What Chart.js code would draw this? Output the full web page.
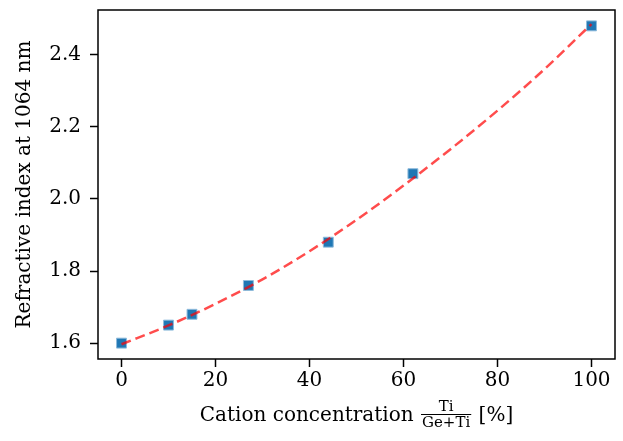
<!DOCTYPE html>
<html>
<head>
<meta charset="utf-8">
<script src="https://cdn.jsdelivr.net/npm/chart.js@4"></script>
<style>
  body { margin: 0; background: #fff; }
</style>
</head>
<body>
<canvas id="myChart" width="623" height="441"></canvas>
<script>
// measured points
var conc = [0, 10, 15, 27, 44, 62, 100];
var index = [1.60, 1.65, 1.68, 1.76, 1.88, 2.07, 2.48];

// dashed fit curve
var fitX = [0, 10, 20, 30, 40, 50, 60, 70, 80, 90, 100];
var fitY = [1.597, 1.649, 1.709, 1.777, 1.855, 1.942, 2.037, 2.138, 2.245, 2.360, 2.485];

var xTicks = [0, 20, 40, 60, 80, 100];
var yTicks = [1.6, 1.8, 2.0, 2.2, 2.4];

var yTitle = "Refractive index at 1064 nm";
var xTitle = "Cation concentration";
var fracTop = "Ti";
var fracBottom = "Ge+Ti";
var xUnit = "[%]";

var FONT = '"DejaVu Serif", serif';

var frame = {
	id: 'frame',
	afterDraw: function(chart) {
		var ctx = chart.ctx;
		var a = chart.chartArea;
		ctx.save();
		ctx.strokeStyle = '#000';
		ctx.lineWidth = 1.5;
		ctx.strokeRect(a.left, a.top, a.right - a.left, a.bottom - a.top);

		// y title
		ctx.fillStyle = '#000';
		ctx.font = '20px ' + FONT;
		ctx.save();
		ctx.translate(25, (a.top + a.bottom) / 2);
		ctx.rotate(-Math.PI / 2);
		ctx.textAlign = 'center';
		ctx.textBaseline = 'middle';
		ctx.fillText(yTitle, 0, 0);
		ctx.restore();

		// x title with the little fraction
		var base = 421;
		ctx.textBaseline = 'alphabetic';
		ctx.textAlign = 'left';
		ctx.font = '20px ' + FONT;
		var w1 = ctx.measureText(xTitle + ' ').width;
		var w3 = ctx.measureText(' ' + xUnit).width;
		ctx.font = '15px ' + FONT;
		var w2 = ctx.measureText(fracBottom).width + 4;
		var start = (a.left + a.right) / 2 - (w1 + w2 + w3) / 2;

		ctx.font = '20px ' + FONT;
		ctx.fillText(xTitle + ' ', start, base);
		ctx.fillText(' ' + xUnit, start + w1 + w2, base);

		var bar = base - 7;
		ctx.font = '15px ' + FONT;
		ctx.textAlign = 'center';
		var mid = start + w1 + w2 / 2;
		ctx.fillText(fracTop, mid, bar - 3);
		ctx.fillText(fracBottom, mid, bar + 13);
		ctx.lineWidth = 1;
		ctx.beginPath();
		ctx.moveTo(start + w1 + 1, bar + 0.5);
		ctx.lineTo(start + w1 + w2 - 1, bar + 0.5);
		ctx.stroke();
		ctx.restore();
	}
};

var ctx = document.getElementById('myChart');

var myChart = new Chart(ctx, {
	type: 'scatter',
	data: {
		datasets: [
			{
				label: 'fit',
				data: fitX.map(function(x, i) { return {x: x, y: fitY[i]}; }),
				showLine: true,
				borderColor: 'rgba(255, 0, 0, 0.7)',
				borderWidth: 2.5,
				borderDash: [10, 5],
				cubicInterpolationMode: 'monotone',
				pointRadius: 0,
				order: 1
			},
			{
				label: 'data',
				data: conc.map(function(x, i) { return {x: x, y: index[i]}; }),
				pointStyle: 'rect',
				pointRadius: 7,
				backgroundColor: '#1f77b4',
				borderColor: '#8dbadb',
				borderWidth: 1,
				order: 2
			}
		]
	},
	options: {
		responsive: false,
		animation: false,
		events: [],
		layout: { padding: { top: 10, right: 8, left: 0, bottom: 0 } },
		plugins: { legend: { display: false }, tooltip: { enabled: false } },
		scales: {
			x: {
				type: 'linear',
				min: -5,
				max: 105,
				afterBuildTicks: function(scale) {
					scale.ticks = xTicks.map(function(v) { return {value: v}; });
				},
				afterFit: function(scale) {
					scale.height = 82;
					scale.paddingLeft = 0;
					scale.paddingRight = 0;
				},
				grid: { drawOnChartArea: false, tickLength: 8, tickColor: '#000', tickWidth: 1.5 },
				border: { display: false },
				ticks: { color: '#000', font: { family: FONT, size: 20 }, padding: 2, maxRotation: 0 }
			},
			y: {
				type: 'linear',
				min: 1.556,
				max: 2.524,
				afterBuildTicks: function(scale) {
					scale.ticks = yTicks.map(function(v) { return {value: v}; });
				},
				afterFit: function(scale) {
					scale.width = 98;
					scale.paddingTop = 0;
					scale.paddingBottom = 0;
				},
				grid: { drawOnChartArea: false, tickLength: 8, tickColor: '#000', tickWidth: 1.5 },
				border: { display: false },
				ticks: {
					color: '#000',
					font: { family: FONT, size: 20 },
					padding: 9,
					callback: function(v) { return v.toFixed(1); }
				}
			}
		}
	},
	plugins: [frame]
});
</script>
</body>
</html>
